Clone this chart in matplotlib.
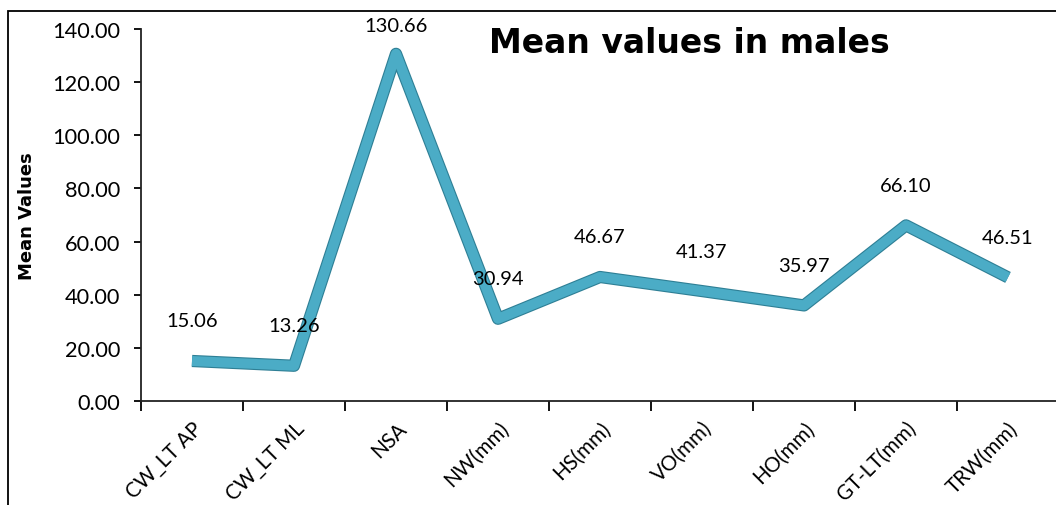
import matplotlib.pyplot as plt
import matplotlib.patheffects as pe
from matplotlib.patches import Rectangle
from matplotlib.ticker import FormatStrFormatter

# data
categories = ['CW_LT AP', 'CW_LT ML', 'NSA', 'NW(mm)', 'HS(mm)', 'VO(mm)',
              'HO(mm)', 'GT-LT(mm)', 'TRW(mm)']
mean_values = [15.06, 13.26, 130.66, 30.94, 46.67, 41.37, 35.97, 66.10, 46.51]
y_ticks = [0, 20, 40, 60, 80, 100, 120, 140]

plt.rcParams['font.family'] = ['Lato', 'DejaVu Sans']

fig = plt.figure(figsize=(10.56, 5.06), dpi=100)
W, H = 1056, 506

# chart-area border (cut off on the right and bottom like the source)
fig.patches.append(Rectangle((8 / W, -0.1), 1.2, (H - 12) / H + 0.1,
                             transform=fig.transFigure, fill=False,
                             edgecolor='black', linewidth=1.3))

ax = fig.add_axes([141 / W, (H - 402) / H, 1020 / W, 372 / H])

x = list(range(len(categories)))
ax.plot(x, mean_values, color='#4BACC6', linewidth=7.2,
        solid_joinstyle='round', solid_capstyle='butt',
        path_effects=[pe.Stroke(linewidth=8.8, foreground='#2E7F95'), pe.Normal()])

ax.set_xlim(-0.5, 9.5)
ax.set_ylim(0, 140)

# data labels ~40px above the point, kept inside the chart area at the top
for xi, v in zip(x, mean_values):
    py = ax.transData.transform((xi, v))[1]
    ly = min(py + 40, H - 27)
    off = (ly - py) * 72 / fig.dpi
    ax.annotate(f'{v:.2f}', (xi, v), xytext=(0, off), textcoords='offset points',
                ha='center', va='center', fontsize=14.5, color='black')

ax.set_yticks(y_ticks)
ax.yaxis.set_major_formatter(FormatStrFormatter('%.2f'))
ax.tick_params(axis='y', labelsize=15.7, direction='out', length=5, width=1.3, pad=10)

# ticks at category boundaries, labels at category centres
ax.set_xticks([i - 0.5 for i in range(10)])
ax.set_xticklabels([])
ax.tick_params(axis='x', which='major', direction='out', length=7, width=1.3)
ax.set_xticks(x, minor=True)
ax.set_xticklabels(categories, minor=True, rotation=45, ha='right', va='top',
                   rotation_mode='anchor', fontsize=14.8)
ax.tick_params(axis='x', which='minor', length=0, pad=12)

for s in ['top', 'right']:
    ax.spines[s].set_visible(False)
for s in ['left', 'bottom']:
    ax.spines[s].set_linewidth(1.3)
    ax.spines[s].set_color('#222222')

ax.set_ylabel('Mean Values', fontsize=13, fontweight='bold',
              family=['DejaVu Sans'])
ax.yaxis.set_label_coords(-105 / 1020, 0.5)

fig.text(689 / W, 1 - 44 / H, 'Mean values in males', fontsize=23.8,
         fontweight='bold', family=['DejaVu Sans'], ha='center', va='center')

fig.savefig('out.png', dpi=100)
